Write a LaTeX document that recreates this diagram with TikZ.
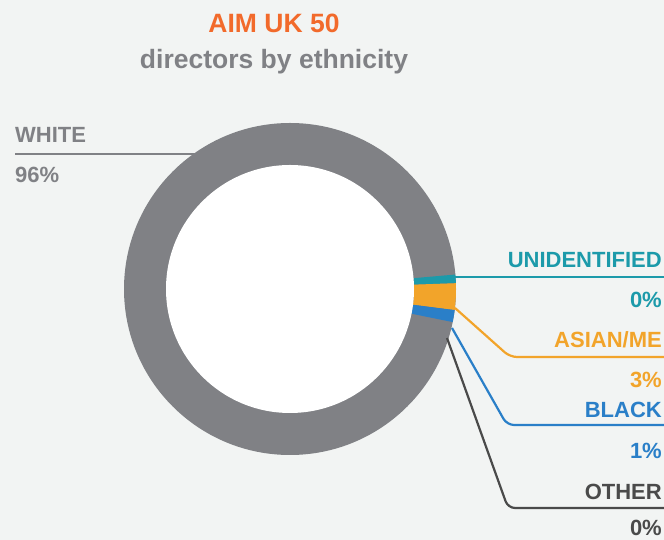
\documentclass[tikz,border=0pt]{standalone}
\usepackage{fontspec}
\setmainfont{Liberation Sans}
\usepackage{tikz}
\usetikzlibrary{arrows}

\definecolor{bgcol}{HTML}{F2F4F3}
\definecolor{titlecol}{HTML}{F26A2B}
\definecolor{greycol}{HTML}{808185}
\definecolor{tealcol}{HTML}{1C9AAA}
\definecolor{orangecol}{HTML}{F2A42A}
\definecolor{bluecol}{HTML}{2A7FC8}
\definecolor{darkcol}{HTML}{4A4A4A}

\begin{document}
\begin{tikzpicture}[x=1pt, y=1pt, >=stealth]
			\tikzstyle{tag} = [font=\fontsize{22}{24}\selectfont\bfseries, inner sep=0pt, anchor=base east]
			\tikzstyle{head} = [font=\fontsize{26.5}{30}\selectfont\bfseries, inner sep=0pt, anchor=base]
			\tikzstyle{lead} = [line width=2.2pt, rounded corners=7pt]

			\fill[bgcol] (0,0) rectangle (664,540);
			\useasboundingbox (0,0) rectangle (664,540);

			% ring
			\begin{scope}[shift={(290,251)}]
			\fill[greycol] (0,0) circle (166);
			\fill[tealcol] (2:166) arc (2:5:166) -- (5:124) arc (5:2:124) -- cycle;
			\fill[orangecol] (-7.3:166) arc (-7.3:2:166) -- (2:124) arc (2:-7.3:124) -- cycle;
			\fill[bluecol] (-11.5:166) arc (-11.5:-7.3:166) -- (-7.3:124) arc (-7.3:-11.5:124) -- cycle;
			\fill[white] (0,0) circle (124);
			\end{scope}

			\path
			node[head, titlecol] (title) at (274,507) {AIM UK 50}
			node[head, greycol] (sub) at (274,471) {directors by ethnicity}

			node[tag, greycol, anchor=base west] (white) at (15,397) {WHITE}
			node[tag, greycol, anchor=base west] (whitep) at (15,357) {96\%}
			node[tag, tealcol] (unid) at (662,272) {UNIDENTIFIED}
			node[tag, tealcol] (unidp) at (662,232) {0\%}
			node[tag, orangecol] (asian) at (662,192) {ASIAN/ME}
			node[tag, orangecol] (asianp) at (662,152) {3\%}
			node[tag, bluecol] (black) at (662,122) {BLACK}
			node[tag, bluecol] (blackp) at (662,81) {1\%}
			node[tag, darkcol] (other) at (662,40) {OTHER}
			node[tag, darkcol] (otherp) at (662,4.5) {0\%}
			;

			\coordinate (wa) at (195,386);
			\coordinate (wb) at (15,386);
			\coordinate (ua) at (455,263);
			\coordinate (ub) at (664,263);
			\coordinate (aa) at (455,232);
			\coordinate (ab) at (510,183);
			\coordinate (ac) at (664,183);
			\coordinate (ba) at (452,212);
			\coordinate (bb) at (507,115);
			\coordinate (bc) at (664,115);
			\coordinate (oa) at (447,202);
			\coordinate (ob) at (508,32);
			\coordinate (oc) at (664,32);

			\draw[lead, greycol] (wa) -- (wb);
			\draw[lead, tealcol] (ua) -- (ub);
			\draw[lead, orangecol] (aa) -- (ab) -- (ac);
			\draw[lead, bluecol] (ba) -- (bb) -- (bc);
			\draw[lead, darkcol] (oa) -- (ob) -- (oc);
\end{tikzpicture}
\end{document}
